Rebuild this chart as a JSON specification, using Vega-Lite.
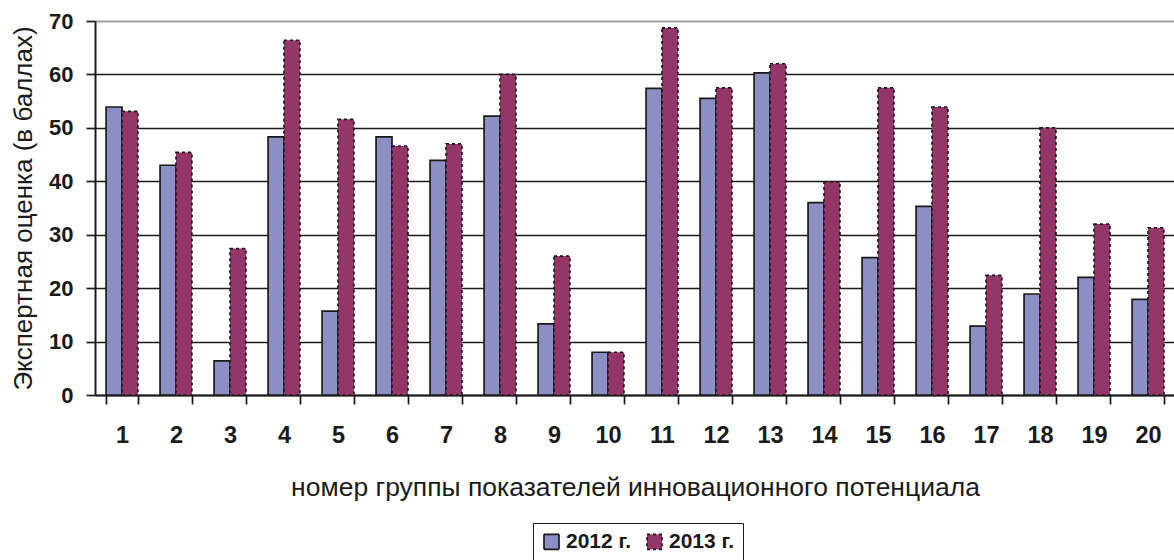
{
  "$schema": "https://vega.github.io/schema/vega-lite/v6.json",
  "autosize": "none",
  "width": 1080,
  "height": 374,
  "padding": {"left": 95, "top": 21, "right": 0, "bottom": 165},
  "background": "white",
  "config": {
    "font": "Liberation Sans",
    "view": {"stroke": null}
  },
  "data": {
    "values": [
      {"g": "1", "year": "2012 г.", "v": 53.9}, {"g": "1", "year": "2013 г.", "v": 53.1},
      {"g": "2", "year": "2012 г.", "v": 43.0}, {"g": "2", "year": "2013 г.", "v": 45.4},
      {"g": "3", "year": "2012 г.", "v": 6.4}, {"g": "3", "year": "2013 г.", "v": 27.4},
      {"g": "4", "year": "2012 г.", "v": 48.3}, {"g": "4", "year": "2013 г.", "v": 66.4},
      {"g": "5", "year": "2012 г.", "v": 15.7}, {"g": "5", "year": "2013 г.", "v": 51.6},
      {"g": "6", "year": "2012 г.", "v": 48.3}, {"g": "6", "year": "2013 г.", "v": 46.6},
      {"g": "7", "year": "2012 г.", "v": 43.9}, {"g": "7", "year": "2013 г.", "v": 47.0},
      {"g": "8", "year": "2012 г.", "v": 52.2}, {"g": "8", "year": "2013 г.", "v": 60.0},
      {"g": "9", "year": "2012 г.", "v": 13.3}, {"g": "9", "year": "2013 г.", "v": 26.0},
      {"g": "10", "year": "2012 г.", "v": 8.0}, {"g": "10", "year": "2013 г.", "v": 8.0},
      {"g": "11", "year": "2012 г.", "v": 57.4}, {"g": "11", "year": "2013 г.", "v": 68.7},
      {"g": "12", "year": "2012 г.", "v": 55.5}, {"g": "12", "year": "2013 г.", "v": 57.5},
      {"g": "13", "year": "2012 г.", "v": 60.3}, {"g": "13", "year": "2013 г.", "v": 62.0},
      {"g": "14", "year": "2012 г.", "v": 36.0}, {"g": "14", "year": "2013 г.", "v": 39.9},
      {"g": "15", "year": "2012 г.", "v": 25.7}, {"g": "15", "year": "2013 г.", "v": 57.5},
      {"g": "16", "year": "2012 г.", "v": 35.3}, {"g": "16", "year": "2013 г.", "v": 53.9},
      {"g": "17", "year": "2012 г.", "v": 12.9}, {"g": "17", "year": "2013 г.", "v": 22.4},
      {"g": "18", "year": "2012 г.", "v": 18.9}, {"g": "18", "year": "2013 г.", "v": 50.0},
      {"g": "19", "year": "2012 г.", "v": 22.0}, {"g": "19", "year": "2013 г.", "v": 32.0},
      {"g": "20", "year": "2012 г.", "v": 17.9}, {"g": "20", "year": "2013 г.", "v": 31.3}
    ]
  },
  "mark": {"type": "bar", "stroke": "#1a1a1a", "strokeWidth": 1.7},
  "encoding": {
    "x": {
      "field": "g",
      "type": "ordinal",
      "sort": null,
      "scale": {"paddingInner": 0.41, "paddingOuter": 0.205},
      "axis": {
        "title": "номер группы показателей инновационного потенциала",
        "titleFontSize": 26.5,
        "titleFontWeight": "normal",
        "titleColor": "#1a1a1a",
        "titlePadding": 28,
        "labelAngle": 0,
        "labelFontSize": 23.5,
        "labelFontWeight": "bold",
        "labelColor": "#1a1a1a",
        "labelPadding": 19,
        "tickBand": "extent",
        "tickSize": 9,
        "tickWidth": 1.7,
        "tickColor": "#1a1a1a",
        "domainColor": "#1a1a1a",
        "domainWidth": 2
      }
    },
    "xOffset": {"field": "year", "type": "nominal"},
    "y": {
      "field": "v",
      "type": "quantitative",
      "scale": {"domain": [0, 70], "nice": false},
      "axis": {
        "title": "Экспертная оценка (в баллах)",
        "titleFontSize": 26,
        "titleFontWeight": "normal",
        "titleColor": "#1a1a1a",
        "titlePadding": 12,
        "values": [0, 10, 20, 30, 40, 50, 60, 70],
        "labelFontSize": 22,
        "labelFontWeight": "bold",
        "labelColor": "#1a1a1a",
        "labelPadding": 13,
        "tickSize": 9,
        "tickWidth": 1.7,
        "tickColor": "#1a1a1a",
        "domainColor": "#1a1a1a",
        "domainWidth": 2,
        "grid": true,
        "gridColor": {"condition": {"test": "datum.value == 70", "value": "#a0a0a0"}, "value": "#1a1a1a"},
        "gridWidth": {"condition": {"test": "datum.value == 70", "value": 2.2}, "value": 1.7}
      }
    },
    "fill": {
      "field": "year",
      "type": "nominal",
      "scale": {"domain": ["2012 г.", "2013 г."], "range": ["#8c8fc4", "#943768"]},
      "legend": {
        "title": null,
        "orient": "none",
        "direction": "horizontal",
        "legendX": 438,
        "legendY": 502,
        "strokeColor": "#1a1a1a",
        "padding": 8,
        "labelFontSize": 21,
        "labelFontWeight": "bold",
        "labelColor": "#1a1a1a",
        "symbolType": "square",
        "symbolSize": 225,
        "symbolStrokeColor": "#1a1a1a",
        "symbolStrokeWidth": 1.7,
        "symbolOpacity": 1,
        "columnPadding": 11,
        "labelOffset": 4
      }
    },
    "strokeDash": {
      "field": "year",
      "type": "nominal",
      "scale": {"domain": ["2012 г.", "2013 г."], "range": [[1, 0], [3, 3]]}
    }
  }
}
